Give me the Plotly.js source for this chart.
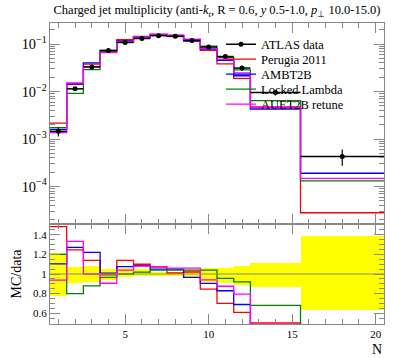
<!DOCTYPE html>
<html><head><meta charset="utf-8">
<script src="https://cdn.plot.ly/plotly-3.0.1.min.js"></script>
<style>html,body{margin:0;padding:0;background:#fff}#chart{width:397px;height:358px}</style>
</head><body><div id="chart"></div>
<script>
// Bin structure (N = charged jet multiplicity)
var binEdges   = [0.5,1.5,2.5,3.5,4.5,5.5,6.5,7.5,8.5,9.5,10.5,11.5,12.5,15.5,20.5];
var binCenters = [1,2,3,4,5,6,7,8,9,10,11,12,14,18];

// ATLAS data and its relative uncertainty band (MC/data units)
var atlasData = [1.45e-3,0.0114,0.033,0.073,0.108,0.131,0.150,0.145,0.119,0.0865,0.0545,0.0312,0.0095,4.3e-4];
var bandHi    = [1.215,1.07,1.08,1.055,1.058,1.05,1.025,1.02,1.04,1.06,1.065,1.085,1.11,1.39];
var bandLo    = [0.775,0.905,0.92,0.94,0.966,0.975,0.98,0.98,0.957,0.92,0.91,0.89,0.87,0.635];

// MC predictions
var perugia2011  = [2.15e-3,0.0142,0.0376,0.0723,0.123,0.144,0.1605,0.1465,0.1214,0.0732,0.0382,0.0190,0.00475,2.8e-5];
var ambt2b       = [1.60e-3,0.0145,0.0403,0.0737,0.1161,0.1421,0.1575,0.1523,0.1148,0.0783,0.0452,0.0215,0.00428,1.9e-4];
var lockedLambda = [1.74e-3,0.00912,0.0290,0.0705,0.108,0.1336,0.156,0.1508,0.1238,0.090,0.0521,0.0287,0.00646,1.31e-4];
var auet2bRetune = [1.36e-3,0.0152,0.033,0.0661,0.1123,0.1415,0.1613,0.1537,0.1261,0.0813,0.0477,0.0248,0.00461,1.48e-4];

var seriesNames  = ['ATLAS data','Perugia 2011','AMBT2B','Locked Lambda','AUET2B retune'];
var seriesColors = ['#000000','#ff0000','#0000ff','#008000','#ff00ff'];

var axisCol = '#888888';
var fontFam = 'Liberation Serif, serif';

function stepY(v){ return v.concat([v[v.length-1]]); }
function ratio(v){ return v.map(function(x,i){ return x/atlasData[i]; }); }
var halfW = binCenters.map(function(c,i){ return (binEdges[i+1]-binEdges[i])/2; });
var widths = halfW.map(function(h){ return 2*h; });

var traces = [];
// yellow data band in ratio panel
traces.push({type:'bar', x:binCenters, width:widths, base:bandLo,
  y:bandHi.map(function(h,i){return h-bandLo[i];}),
  xaxis:'x2', yaxis:'y2', marker:{color:'#ffff00', line:{width:0}}, showlegend:false, hoverinfo:'skip'});

var mc = [perugia2011, ambt2b, lockedLambda, auet2bRetune];
var legIds = ['legend2','legend3','legend4','legend5'];
mc.forEach(function(v,k){
  traces.push({type:'scatter', mode:'lines', x:binEdges, y:stepY(ratio(v)), xaxis:'x2', yaxis:'y2',
    line:{shape:'hv', color:seriesColors[k+1], width:1.3}, showlegend:false, hoverinfo:'skip'});
});
mc.forEach(function(v,k){
  traces.push({type:'scatter', mode:'lines', name:seriesNames[k+1], x:binEdges, y:stepY(v), xaxis:'x', yaxis:'y',
    line:{shape:'hv', color:seriesColors[k+1], width:1.3}, legend:legIds[k]});
});

// data points (isolated points so the legend shows line + marker)
var dx=[], dy=[], ex=[], eyp=[], eym=[];
atlasData.forEach(function(v,i){
  dx.push(binCenters[i], null); dy.push(v, null);
  ex.push(halfW[i], 0); eyp.push(v*(bandHi[i]-1), 0); eym.push(v*(1-bandLo[i]), 0);
});
traces.push({type:'scatter', mode:'lines+markers', name:seriesNames[0], x:dx, y:dy, xaxis:'x', yaxis:'y',
  connectgaps:false, line:{color:'#000', width:1.5}, marker:{color:'#000', size:5},
  error_x:{type:'data', array:ex, color:'#000', thickness:1.5, width:0},
  error_y:{type:'data', array:eyp, arrayminus:eym, symmetric:false, color:'#000', thickness:1.2, width:0},
  legend:'legend'});

function leg(y){ return {x:0.512, y:y, xanchor:'left', yanchor:'top', bgcolor:'rgba(0,0,0,0)', borderwidth:0,
  font:{family:fontFam, size:12.5, color:'#000'}}; }

var minorX = {dtick:1, ticklen:5, ticks:'inside', tickcolor:axisCol, showgrid:false};
var layout = {
  width:397, height:358, margin:{l:50, r:13, t:23, b:34},
  paper_bgcolor:'#fff', plot_bgcolor:'#fff',
  font:{family:fontFam, size:11, color:'#000'},
  hovermode:false, barmode:'overlay', bargap:0,
  title:{text:'Charged jet multiplicity (anti-<i>k</i><sub><i>t</i></sub>, R = 0.6, <i>y</i> 0.5-1.0, <i>p</i><sub>⊥</sub> 10.0-15.0)',
    x:0.5, xref:'paper', xanchor:'center', y:1-10/358, yref:'container', yanchor:'middle',
    font:{family:fontFam, size:12.5, color:'#000'}},
  showlegend:true,
  legend:leg(0.9784), legend2:leg(0.9286), legend3:leg(0.8787), legend4:leg(0.8289), legend5:leg(0.7791),
  xaxis:{domain:[0,1], anchor:'y', range:[0.5,20.5], showticklabels:false, ticks:'inside', ticklen:10,
    tick0:0, dtick:5, tickcolor:axisCol, showline:true, linecolor:axisCol, linewidth:1, mirror:'allticks',
    showgrid:false, zeroline:false, minor:minorX},
  yaxis:{domain:[100/301,1], anchor:'x', type:'log', range:[-4.79,-0.557], dtick:1, exponentformat:'power',
    ticks:'inside', ticklen:10, tickcolor:axisCol, showline:true, linecolor:axisCol, linewidth:1, mirror:'allticks',
    showgrid:false, zeroline:false, tickfont:{family:fontFam, size:11.5},
    minor:{dtick:'D1', ticklen:5, ticks:'inside', tickcolor:axisCol, showgrid:false}},
  xaxis2:{domain:[0,1], anchor:'y2', matches:'x', range:[0.5,20.5], ticks:'inside', ticklen:10,
    tick0:0, dtick:5, tickcolor:axisCol, showline:true, linecolor:axisCol, linewidth:1, mirror:'allticks',
    showgrid:false, zeroline:false, tickfont:{family:fontFam, size:11}, minor:minorX},
  yaxis2:{domain:[0,100/301], anchor:'x2', range:[0.49,1.51], tick0:0, dtick:0.2,
    ticks:'inside', ticklen:10, tickcolor:axisCol, showline:true, linecolor:axisCol, linewidth:1, mirror:'allticks',
    showgrid:false, zeroline:false, tickfont:{family:fontFam, size:11},
    minor:{dtick:0.05, ticklen:5, ticks:'inside', tickcolor:axisCol, showgrid:false},
    title:{text:'MC/data', font:{family:fontFam, size:14, color:'#000'}, standoff:8}},
  shapes:[{type:'line', xref:'x2 domain', x0:0, x1:1, yref:'y2', y0:1, y1:1, line:{color:axisCol, width:1}}],
  annotations:[{text:'N', xref:'paper', yref:'paper', x:1, y:(324-350)/301, xanchor:'right', yanchor:'middle',
    showarrow:false, font:{family:fontFam, size:14, color:'#000'}}]
};

Plotly.newPlot('chart', traces, layout, {staticPlot:true, displayModeBar:false});
</script>
</body></html>
